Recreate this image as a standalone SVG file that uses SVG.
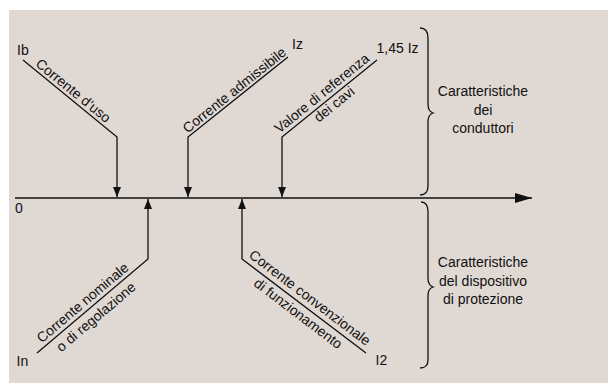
<svg xmlns="http://www.w3.org/2000/svg" width="608" height="383" viewBox="0 0 608 383">
<defs>
<marker id="ah" viewBox="0 0 10 8" refX="10" refY="4" markerWidth="10" markerHeight="8" markerUnits="userSpaceOnUse" orient="auto">
<path d="M0,0 L10,4 L0,8 Z" fill="#111"/>
</marker>
<marker id="big" viewBox="0 0 17 10" refX="17" refY="5" markerWidth="17" markerHeight="10" markerUnits="userSpaceOnUse" orient="auto">
<path d="M0,0 L17,5 L0,10 Z" fill="#111"/>
</marker>
</defs>
<style>
text{font-family:"Liberation Sans",Arial,sans-serif;font-size:14px;fill:#111}
.ln{fill:none;stroke:#111;stroke-width:1.3}
.m{text-anchor:middle}
</style>
<rect x="9" y="10" width="599" height="373" fill="#e0d8d3"/>

<g id="connectors">
<line id="axis" class="ln" x1="15" y1="198" x2="532" y2="198" marker-end="url(#big)"/>
<polyline class="ln" points="23,60 117,137 117,197" marker-end="url(#ah)"/>
<polyline class="ln" points="288,57 188,137 188,197" marker-end="url(#ah)"/>
<polyline class="ln" points="377,60 282,137 282,197" marker-end="url(#ah)"/>
<polyline class="ln" points="37,353 148,259 148,199" marker-end="url(#ah)"/>
<polyline class="ln" points="366,353 242,259 242,199" marker-end="url(#ah)"/>
</g>

<g id="origin"><text x="15" y="213">0</text></g>

<g id="ib">
<text x="17" y="55">Ib</text>
<text class="m" transform="translate(70.3,94.4) rotate(39.3)">Corrente d’uso</text>
</g>
<g id="iz">
<text x="292" y="49">Iz</text>
<text class="m" transform="translate(237.4,93.8) rotate(-38.7)">Corrente admissibile</text>
</g>
<g id="iz145">
<text x="376.5" y="53">1,45 Iz</text>
<text class="m" transform="translate(324.8,96.9) rotate(-39)">Valore di referenza</text>
<text class="m" transform="translate(337.2,107.9) rotate(-39)">dei cavi</text>
</g>
<g id="in">
<text x="16.5" y="365.5">In</text>
<text class="m" transform="translate(85.7,306.3) rotate(-40.2)">Corrente nominale</text>
<text class="m" transform="translate(99,320.5) rotate(-40.2)">o di regolazione</text>
</g>
<g id="i2">
<text x="375.5" y="365">I2</text>
<text class="m" transform="translate(307,301.5) rotate(37.2)">Corrente convenzionale</text>
<text class="m" transform="translate(295.3,317.3) rotate(37.2)">di funzionamento</text>
</g>

<g id="conduttori">
<path class="ln" d="M420,28 C425,28 428,31 428,38 L428,104 C428,109 430,112 433,113 C430,114 428,117 428,122 L428,186 C428,192 425,195 420,195"/>
<text class="m" x="483" y="96">Caratteristiche</text>
<text class="m" x="483" y="114.7">dei</text>
<text class="m" x="483" y="133.3">conduttori</text>
</g>
<g id="dispositivo">
<path class="ln" d="M421,202 C426,202 428,205 428,212 L428,278 C428,283 430,286 433,287 C430,288 428,291 428,296 L428,360 C428,366 425,368 420,368"/>
<text class="m" x="483" y="266.7">Caratteristiche</text>
<text class="m" x="483" y="285.5">del dispositivo</text>
<text class="m" x="483" y="304.3">di protezione</text>
</g>
</svg>
